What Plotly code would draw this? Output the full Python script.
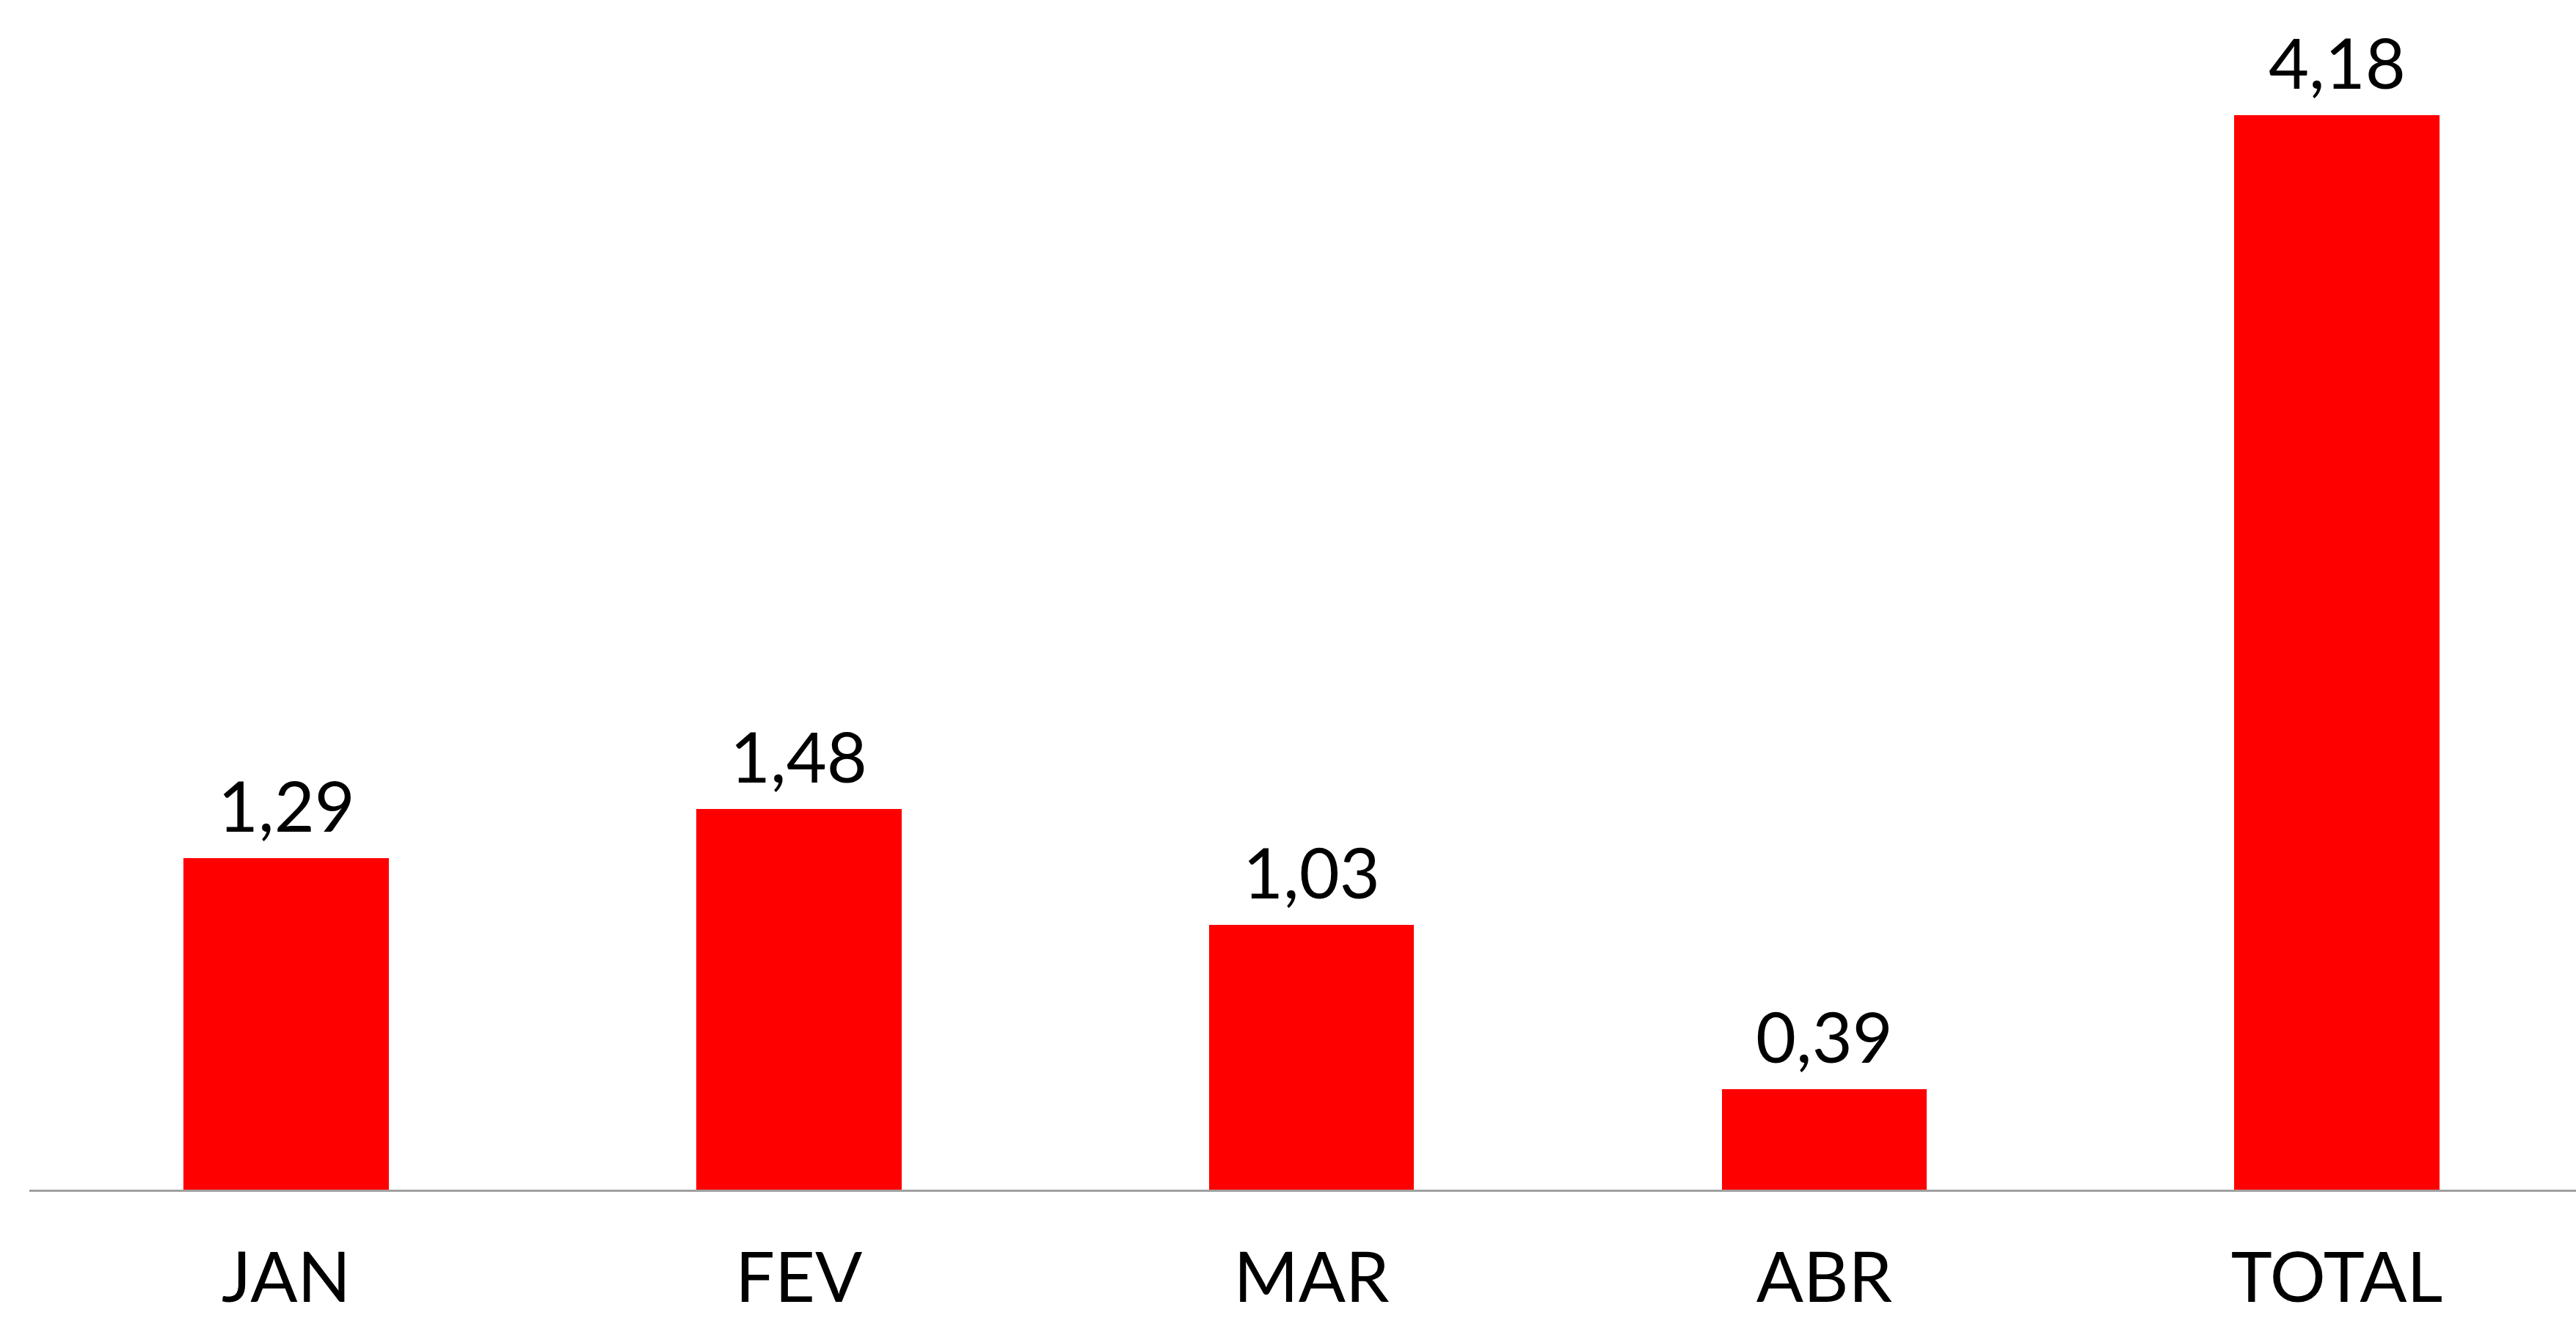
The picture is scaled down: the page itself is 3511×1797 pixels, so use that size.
import plotly.graph_objects as go

# Monthly values and the running total
categories = ["JAN", "FEV", "MAR", "ABR", "TOTAL"]
values = [1.29, 1.48, 1.03, 0.39, 4.18]
value_labels = ["1,29", "1,48", "1,03", "0,39", "4,18"]

BAR_COLOR = "#FF0000"
FONT = "Lato"
FONT_SIZE = 95

fig = go.Figure()
fig.add_trace(go.Bar(
    x=list(range(len(categories))),
    y=values,
    width=0.4,
    marker=dict(color=BAR_COLOR, line=dict(width=0)),
    hoverinfo="skip",
))

# value labels above each bar
for i, (v, lab) in enumerate(zip(values, value_labels)):
    fig.add_annotation(
        x=i, y=v, text=lab, showarrow=False,
        xanchor="center", yanchor="bottom", yshift=14,
        font=dict(family=FONT, size=FONT_SIZE, color="black"),
    )

fig.update_layout(
    width=3511, height=1797,
    margin=dict(l=40, r=0, t=0, b=175),
    paper_bgcolor="white", plot_bgcolor="white",
    showlegend=False,
    bargap=0,
    font=dict(family=FONT, size=FONT_SIZE, color="black"),
)
fig.update_xaxes(
    tickmode="array",
    tickvals=list(range(len(categories))),
    ticktext=categories,
    range=[-0.5009, 4.4665],
    automargin=False,
    showline=True, linecolor="#A0A0A0", linewidth=2.5,
    layer="below traces",
    showgrid=False, zeroline=False,
    ticks="outside", ticklen=36, tickcolor="rgba(0,0,0,0)",
    tickfont=dict(family=FONT, size=FONT_SIZE, color="black"),
)
fig.update_yaxes(
    range=[0, 4.628],
    automargin=False,
    visible=False, showgrid=False, zeroline=False,
)

fig.write_html("out.html")
